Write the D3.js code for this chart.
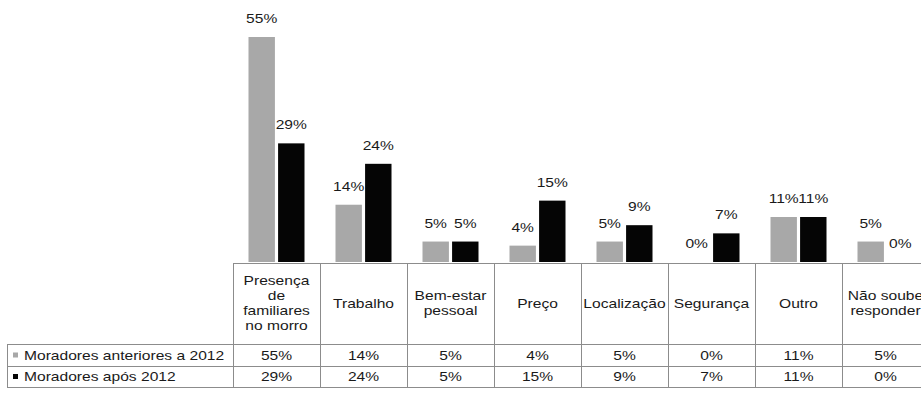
<!DOCTYPE html>
<html>
<head>
<meta charset="utf-8">
<script src="https://cdn.jsdelivr.net/npm/d3@7/dist/d3.min.js"></script>
<style>
  html, body { margin: 0; padding: 0; background: #fff; }
  svg { display: block; }
  text { font-family: "Liberation Sans", Arial, sans-serif; font-size: 12px; fill: #1a1a1a; }
</style>
</head>
<body>
<svg id="chart" width="921" height="394"></svg>
<script>
// Motivos de escolha do morro, por período de chegada dos moradores
const categories = [
  ["Presença", "de", "familiares", "no morro"],
  ["Trabalho"],
  ["Bem-estar", "pessoal"],
  ["Preço"],
  ["Localização"],
  ["Segurança"],
  ["Outro"],
  ["Não soube", "responder"]
];
const seriesNames = ["Moradores anteriores a 2012", "Moradores após 2012"];
const before2012 = [55, 14, 5, 4, 5, 0, 11, 5];
const after2012 = [29, 24, 5, 15, 9, 7, 11, 0];
const seriesColors = ["#a8a8a8", "#050505"];

const svg = d3.select("#chart");
const W = 921;

// layout
const tableLeft = 7;
const colStart = 233, colWidth = 87;
const baseY = 262;
const headerTop = 263, headerBottom = 344, row1Bottom = 366, row2Bottom = 387;
const stretch = 1.3; // horizontal stretch of all lettering

const keys = categories.map((c, i) => i);
const x = d3.scaleBand().domain(keys).range([colStart, colStart + colWidth * keys.length]).paddingInner(0).paddingOuter(0);
const inner = d3.scaleBand().domain([0, 1]).range([15.5, colWidth - 15.5]).paddingInner(6 / 56).paddingOuter(0);
const y = d3.scaleLinear().domain([0, 55]).range([baseY, 37]);

const series = [before2012, after2012];

// draw stretched text at (tx, ty)
function label(g, tx, ty, str, anchor) {
  g.append("text")
    .attr("transform", `translate(${tx},${ty}) scale(${stretch},1)`)
    .attr("text-anchor", anchor || "middle")
    .text(str);
}

// bars
series.forEach((vals, s) => {
  svg.append("g").selectAll("rect")
    .data(vals)
    .join("rect")
    .attr("x", (d, i) => x(i) + inner(s))
    .attr("width", inner.bandwidth())
    .attr("y", d => y(d))
    .attr("height", d => baseY - y(d))
    .attr("fill", seriesColors[s]);
});

// value labels
const labels = svg.append("g");
series.forEach((vals, s) => {
  vals.forEach((v, i) => {
    label(labels, x(i) + inner(s) + inner.bandwidth() / 2, y(v) - 14, v + "%");
  });
});

// table grid
const grid = svg.append("g").attr("stroke", "#8c8c8c").attr("stroke-width", 1).attr("fill", "none");
grid.append("line").attr("x1", colStart).attr("x2", W).attr("y1", headerTop + 0.5).attr("y2", headerTop + 0.5);
[headerBottom, row1Bottom, row2Bottom].forEach(yy => {
  grid.append("line").attr("x1", tableLeft).attr("x2", W).attr("y1", yy + 0.5).attr("y2", yy + 0.5);
});
grid.append("line").attr("x1", tableLeft + 0.5).attr("x2", tableLeft + 0.5).attr("y1", headerBottom).attr("y2", row2Bottom + 1);
keys.forEach(i => {
  const xx = Math.round(x(i)) + 0.5;
  grid.append("line").attr("x1", xx).attr("x2", xx).attr("y1", headerTop).attr("y2", row2Bottom + 1);
});

// category headers
const heads = svg.append("g");
categories.forEach((lines, i) => {
  const cx = x(i) + colWidth / 2;
  const mid = (headerTop + headerBottom) / 2;
  const lh = 15;
  lines.forEach((ln, k) => {
    const yy = mid + (k - (lines.length - 1) / 2) * lh + 4;
    label(heads, cx, yy, ln);
  });
});

// data rows with legend keys
const rows = svg.append("g");
const rowMids = [(headerBottom + row1Bottom) / 2, (row1Bottom + row2Bottom) / 2];
series.forEach((vals, s) => {
  const ry = rowMids[s];
  rows.append("rect").attr("x", 13).attr("y", ry - 2.5).attr("width", 5).attr("height", 5).attr("fill", seriesColors[s]);
  label(rows, 24, ry + 4.5, seriesNames[s], "start");
  vals.forEach((v, i) => label(rows, x(i) + colWidth / 2, ry + 4.5, v + "%"));
});
</script>
</body>
</html>
